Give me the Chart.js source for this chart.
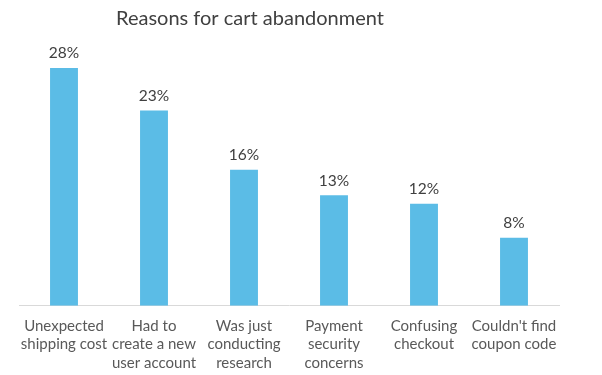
<!DOCTYPE html>
<html><head><meta charset="utf-8">
<script src="https://cdn.jsdelivr.net/npm/chart.js@4/dist/chart.umd.min.js"></script>
<style>html,body{margin:0;padding:0;background:#fff}#wrap{width:602px;height:375px}</style>
</head><body><div id="wrap"><canvas id="c"></canvas></div>
<script>
const categories = [
  ["Unexpected","shipping cost"],
  ["Had to","create a new","user account"],
  ["Was just","conducting","research"],
  ["Payment","security","concerns"],
  ["Confusing","checkout"],
  ["Couldn't find","coupon code"]
];
const values = [28, 23, 16, 13, 12, 8];
const valueLabels = ["28%","23%","16%","13%","12%","8%"];
const titleText = "Reasons for cart abandonment";

const labelPlugin = {
  id: 'labels',
  afterDatasetsDraw(chart) {
    const ctx = chart.ctx;
    const meta = chart.getDatasetMeta(0);
    ctx.save();
    ctx.font = '15.5px Lato';
    ctx.fillStyle = '#404040';
    ctx.textAlign = 'center';
    ctx.textBaseline = 'bottom';
    meta.data.forEach((bar, i) => {
      ctx.fillText(valueLabels[i], bar.x, bar.y - 7);
    });
    ctx.font = '20px Lato';
    ctx.fillStyle = '#404040';
    ctx.textBaseline = 'alphabetic';
    ctx.fillText(titleText, 250, 25);
    ctx.restore();
  }
};

new Chart(document.getElementById('c'), {
  type: 'bar',
  data: {
    labels: categories,
    datasets: [{ data: values, backgroundColor: '#5bbce6', borderWidth: 0,
      categoryPercentage: 1, barPercentage: 0.31 }]
  },
  options: {
    responsive: true, maintainAspectRatio: false, animation: false,
    devicePixelRatio: 1,
    layout: { padding: { left: 19, right: 43, top: 51, bottom: -8 } },
    plugins: { legend: { display: false }, tooltip: { enabled: false }, title: { display: false } },
    scales: {
      y: { display: false, min: 0, max: 30 },
      x: {
        grid: { display: false, drawTicks: false },
        border: { display: true, color: '#d9d9d9', width: 1 },
        ticks: { color: '#595959', font: { family: 'Lato', size: 15, lineHeight: 1.23 }, padding: 11, maxRotation: 0, autoSkip: false }
      }
    }
  },
  plugins: [labelPlugin]
});
</script></body></html>
